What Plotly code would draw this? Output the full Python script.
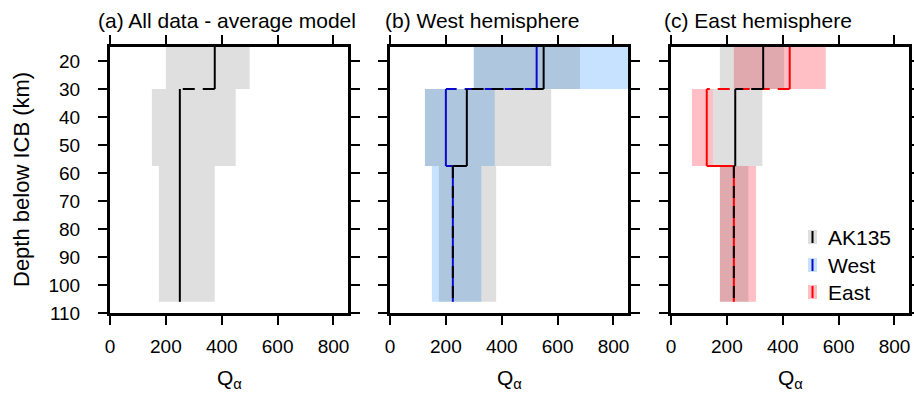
import plotly.graph_objects as go

# ---------------- data ----------------
depth_edges = [15, 30, 57.5, 106]          # layer boundaries, km below ICB

# (a) all data - average model
avg_model = [375, 250, 250]
avg_lo = [200, 150, 175]
avg_hi = [500, 450, 375]

# (b) west hemisphere
west_ak_model = [550, 275, 225]
west_ak_lo = [300, 125, 175]
west_ak_hi = [680, 577, 380]
west_model = [525, 200, 225]
west_lo = [300, 125, 150]
west_hi = [900, 375, 327]

# (c) east hemisphere
east_ak_model = [330, 230, 225]
east_ak_lo = [175, 150, 175]
east_ak_hi = [405, 327, 277]
east_model = [425, 128, 225]
east_lo = [225, 75, 175]
east_hi = [554, 150, 304]

x_ticks = [0, 200, 400, 600, 800]
y_ticks = [20, 30, 40, 50, 60, 70, 80, 90, 100, 110]
panel_titles = ["(a) All data - average model", "(b) West hemisphere", "(c) East hemisphere"]
legend_labels = ["AK135", "West", "East"]

# ---------------- styles ----------------
FONT = "Liberation Sans, Arial, sans-serif"
GRAY_FILL = "rgba(59,59,59,0.16)"
BLUE_FILL = "#C6E2FF"
RED_FILL = "#FFBFC4"
BLUE_LINE = "#0A0ACD"
RED_LINE = "#FF0000"
DASH = "12px,8px"

fig = go.Figure()

W, H = 914, 397
ML, MR, MT, MB = 110, 5, 47, 84
PW = W - ML - MR
PH = H - MT - MB


def band(xa, ya, lo, hi, color):
    xs, ys = [], []
    for i in range(len(lo)):
        d0, d1 = depth_edges[i], depth_edges[i + 1]
        xs += [lo[i], hi[i], hi[i], lo[i], lo[i], None]
        ys += [d0, d0, d1, d1, d0, None]
    fig.add_trace(go.Scatter(x=xs, y=ys, fill="toself", fillcolor=color, mode="lines",
                             line=dict(width=0), xaxis=xa, yaxis=ya, showlegend=False,
                             hoverinfo="skip"))


def step(xa, ya, vals, color, dashes, width=2):
    e = depth_edges
    segs = [
        ([vals[0], vals[0]], [e[0], e[1]]),
        ([vals[0], vals[1]], [e[1], e[1]]),
        ([vals[1], vals[1]], [e[1], e[2]]),
        ([vals[1], vals[2]], [e[2], e[2]]),
        ([vals[2], vals[2]], [e[2], e[3]]),
    ]
    for (sx, sy), dsh in zip(segs, dashes):
        fig.add_trace(go.Scatter(x=sx, y=sy, mode="lines",
                                 line=dict(color=color, width=width, dash=dsh),
                                 xaxis=xa, yaxis=ya, showlegend=False, hoverinfo="skip"))


# panel a
band("x", "y", avg_lo, avg_hi, GRAY_FILL)
step("x", "y", avg_model, "black", ["solid", DASH, "solid", "solid", "solid"])

# panel b
band("x2", "y2", west_lo, west_hi, BLUE_FILL)
band("x2", "y2", west_ak_lo, west_ak_hi, GRAY_FILL)
step("x2", "y2", west_model, BLUE_LINE, ["solid", DASH, "solid", "solid", "solid"])
step("x2", "y2", west_ak_model, "black", ["solid", DASH, "solid", "solid", DASH])

# panel c
band("x3", "y3", east_lo, east_hi, RED_FILL)
band("x3", "y3", east_ak_lo, east_ak_hi, GRAY_FILL)
step("x3", "y3", east_model, RED_LINE, ["solid", DASH, "solid", "solid", "solid"])
step("x3", "y3", east_ak_model, "black", ["solid", DASH, "solid", "solid", DASH])

# ---------------- axes ----------------
domains = [(0, 238 / PW), (280 / PW, 518 / PW), (561 / PW, 1.0)]
ax_common = dict(showgrid=False, zeroline=False, showline=True, linecolor="black", linewidth=3,
                 mirror="ticks", ticks="outside", ticklen=9, tickwidth=2, tickcolor="black",
                 tickfont=dict(family=FONT, size=19, color="black"), automargin=False)
layout_axes = {}
for i, dom in enumerate(domains):
    sfx = "" if i == 0 else str(i + 1)
    layout_axes["xaxis" + sfx] = dict(ax_common, domain=list(dom), range=[0, 852],
                                      tickvals=x_ticks, anchor="y" + sfx, ticklabelstandoff=5)
    layout_axes["yaxis" + sfx] = dict(ax_common, domain=[0, 1], range=[110, 15],
                                      tickvals=y_ticks, anchor="x" + sfx,
                                      showticklabels=(i == 0), ticklabelstandoff=14)
fig.update_layout(**layout_axes)

annotations = []
title_x = [96, 383, 662]
for t, px in zip(panel_titles, title_x):
    annotations.append(dict(text=t, x=(px - ML) / PW, y=(H - MB - 21) / PH, xref="paper", yref="paper",
                            xanchor="left", yanchor="middle", showarrow=False,
                            font=dict(family=FONT, size=21, color="black")))
for dom in domains:
    annotations.append(dict(text="Q<sub>α</sub>", x=(dom[0] + dom[1]) / 2, y=(H - MB - 379) / PH,
                            xref="paper", yref="paper", xanchor="center", yanchor="middle",
                            showarrow=False, font=dict(family=FONT, size=21, color="black")))
annotations.append(dict(text="Depth below ICB (km)", x=(21 - ML) / PW, y=0.5, xref="paper",
                        yref="paper", textangle=-90, xanchor="center", yanchor="middle",
                        showarrow=False, font=dict(family=FONT, size=22, color="black")))

# manual legend (panel c)
shapes = []
leg_fills = [GRAY_FILL, BLUE_FILL, RED_FILL]
leg_lines = ["black", BLUE_LINE, RED_LINE]
leg_y = [237, 265, 292]
for lab, fc, lc, py in zip(legend_labels, leg_fills, leg_lines, leg_y):
    y0 = (H - MB - (py + 7)) / PH
    y1 = (H - MB - (py - 7)) / PH
    shapes.append(dict(type="rect", xref="paper", yref="paper", x0=(808 - ML) / PW, x1=(817 - ML) / PW,
                       y0=y0, y1=y1, fillcolor=fc, line=dict(width=0), layer="above"))
    shapes.append(dict(type="line", xref="paper", yref="paper", x0=(812.5 - ML) / PW, x1=(812.5 - ML) / PW,
                       y0=(H - MB - (py + 6)) / PH, y1=(H - MB - (py - 6)) / PH,
                       line=dict(color=lc, width=2), layer="above"))
    annotations.append(dict(text=lab, x=(826 - ML) / PW, y=(H - MB - py) / PH, xref="paper", yref="paper",
                            xanchor="left", yanchor="middle", showarrow=False,
                            font=dict(family=FONT, size=21, color="black")))

fig.update_layout(width=W, height=H, margin=dict(l=ML, r=MR, t=MT, b=MB),
                  paper_bgcolor="white", plot_bgcolor="white", showlegend=False,
                  annotations=annotations, shapes=shapes)

fig.write_html("out.html")
